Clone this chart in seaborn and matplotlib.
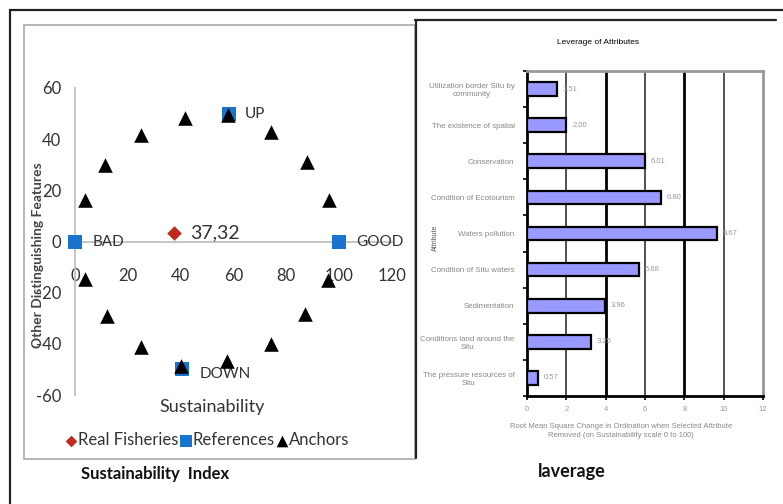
import matplotlib
matplotlib.use("Agg")
import matplotlib.pyplot as plt
import seaborn as sns
import pandas as pd
from matplotlib.lines import Line2D
from matplotlib.patches import Rectangle

# Puntos del ordenamiento (Rapfish)
anchor_x = [3.8, 11.3, 24.8, 41.5, 58.0, 74.2, 87.7, 96.2,
            3.8, 12.0, 24.8, 40.3, 57.5, 74.2, 87.2, 95.6]
anchor_y = [16.4, 30.0, 41.8, 48.4, 49.6, 42.7, 31.1, 16.4,
            -14.6, -29.2, -41.3, -48.7, -46.8, -40.0, -28.5, -15.2]
ref_names = ['BAD', 'GOOD', 'UP', 'DOWN']
ref_x = [0, 100, 58.3, 40.5]
ref_y = [0, 0, 50, -50]
real_x = [37.32]
real_y = [3.5]
real_label = '37,32'

# Leverage de atributos
atributos = ['Utilization border Situ by\ncommunity', 'The existence of spatial', 'Conservation',
             'Condition of Ecotourism', 'Waters pollution', 'Condition of Situ waters',
             'Sedimentation', 'Conditions land around the\nSitu', 'The pressure resources of\nSitu']
leverage = [1.51, 2.00, 6.01, 6.80, 9.67, 5.68, 3.96, 3.25, 0.57]

sns.set_theme(style='white')
plt.rcParams['font.family'] = ['Lato', 'DejaVu Sans']
plt.rcParams['axes.unicode_minus'] = False

W, H = 783, 504
fig = plt.figure(figsize=(7.83, 5.04), dpi=100)

def fx(px):
    return px / W

def fy(py):
    return 1 - py / H

# marcos
fig.add_artist(Line2D([fx(10), 1], [fy(10), fy(10)], color='#222222', lw=1.6))
fig.add_artist(Line2D([fx(10), fx(10)], [fy(10), 0], color='#222222', lw=1.6))
fig.add_artist(Rectangle((fx(24), fy(459)), fx(415) - fx(24), fy(25) - fy(459),
                         fill=False, edgecolor='#aaaaaa', lw=1.2, transform=fig.transFigure))
fig.add_artist(Line2D([fx(415), fx(776)], [fy(20), fy(20)], color='#222222', lw=1.6))
fig.add_artist(Line2D([fx(416), fx(416)], [fy(20), fy(458)], color='#222222', lw=1.6))

# ---- grafico de sostenibilidad ----
ax = fig.add_axes([fx(75), fy(395), fx(392) - fx(75), fy(88) - fy(395)])
sns.scatterplot(x=real_x, y=real_y, marker='D', color='#c0291c', s=55, linewidth=0,
                ax=ax, label='Real Fisheries', clip_on=False, zorder=3)
sns.scatterplot(x=ref_x, y=ref_y, marker='s', color='#1874cd', s=110, linewidth=0,
                ax=ax, label='References', clip_on=False, zorder=3)
sns.scatterplot(x=anchor_x, y=anchor_y, marker='^', color='black', s=110, linewidth=0,
                ax=ax, label='Anchors', clip_on=False, zorder=4)

ax.set_xlim(0, 120)
ax.set_ylim(-60, 60)
ax.set_xticks(range(0, 121, 20))
ax.set_yticks(range(-60, 61, 20))
ax.spines['top'].set_visible(False)
ax.spines['right'].set_visible(False)
ax.spines['bottom'].set_position(('data', 0))
for s in ['left', 'bottom']:
    ax.spines[s].set_color('#bbbbbb')
    ax.spines[s].set_linewidth(1.2)
ax.tick_params(axis='x', direction='out', length=4, color='#bbbbbb', pad=15,
               labelsize=12, labelcolor='#333333')
ax.tick_params(axis='y', direction='out', length=4, color='#bbbbbb', pad=6,
               labelsize=12, labelcolor='#333333')
ax.set_facecolor('none')

offsets = {'BAD': (13, 0), 'GOOD': (12, 0), 'UP': (11, 0), 'DOWN': (13, -3)}
for n, x, y in zip(ref_names, ref_x, ref_y):
    ax.annotate(n, (x, y), xytext=offsets[n], textcoords='offset points',
                ha='left', va='center', fontsize=11, color='#333333')
ax.annotate(real_label, (real_x[0], real_y[0]), xytext=(12, 0), textcoords='offset points',
            ha='left', va='center', fontsize=14, color='#333333')

ax.legend(loc='center', bbox_to_anchor=(fx(208), fy(440)), bbox_transform=fig.transFigure,
          ncol=3, frameon=False, fontsize=12, handlelength=0.5, handletextpad=0.15,
          columnspacing=0.2, markerscale=0.8, labelcolor='#333333')

fig.text(fx(212), fy(407), 'Sustainability', ha='center', va='center', fontsize=13,
         color='#333333')
fig.text(fx(38), fy(255), 'Other Distinguishing Features', rotation=90, ha='center',
         va='center', fontsize=10, fontweight='bold', color='#444444')
fig.text(fx(155), fy(474), 'Sustainability  Index', ha='center', va='center',
         fontsize=12, fontweight='bold', color='#111111')

# ---- grafico de leverage ----
ax2 = fig.add_axes([fx(527), fy(396), fx(763) - fx(527), fy(71) - fy(396)])
df = pd.DataFrame({'Attribute': atributos, 'Leverage': leverage})
sns.barplot(data=df, x='Leverage', y='Attribute', orient='h', color='#9999ff',
            edgecolor='black', linewidth=1.6, width=0.38, saturation=1, ax=ax2, zorder=3)
ax2.set_xlim(0, 12)
ax2.set_xticks(range(0, 13, 2))
for t in range(2, 12, 2):
    thick = t in (4, 8)
    ax2.axvline(t, color='black' if thick else '#333333', lw=2.0 if thick else 1.2, zorder=1)
for i, v in enumerate(leverage):
    ax2.text(v + 0.3, i, f'{v:.2f}', va='center', ha='left', fontsize=5.5,
             color='#999999', family='Liberation Sans')
ax2.set_xlabel('')
ax2.set_ylabel('')
ax2.set_yticks([i + 0.5 for i in range(-1, len(atributos))], minor=True)
ax2.tick_params(axis='y', which='minor', length=3, width=1.2, color='black', left=True)
ax2.tick_params(axis='y', which='major', length=0, pad=9, labelsize=5.7, labelcolor='#888888')
ax2.tick_params(axis='x', length=3, width=1.2, color='black', bottom=True, pad=4,
                labelsize=5.5, labelcolor='#999999')
for lab in ax2.get_yticklabels():
    lab.set_multialignment('center')
    lab.set_family('Liberation Sans')
for lab in ax2.get_xticklabels():
    lab.set_family('Liberation Sans')
ax2.spines['left'].set_color('black')
ax2.spines['bottom'].set_color('black')
ax2.spines['left'].set_linewidth(2)
ax2.spines['bottom'].set_linewidth(2)
ax2.spines['top'].set_color('#999999')
ax2.spines['right'].set_color('#999999')
ax2.spines['top'].set_linewidth(2)
ax2.spines['right'].set_linewidth(2)

fig.text(fx(598), fy(43), 'Leverage of Attributes', ha='center', va='center', fontsize=6,
         family='Liberation Sans', color='black')
fig.text(fx(621), fy(431), 'Root Mean Square Change in Ordination when Selected Attribute\n'
         'Removed (on Sustainability scale 0 to 100)', ha='center', va='center', fontsize=5.5,
         family='Liberation Sans', color='#888888', linespacing=1.5)
fig.text(fx(435), fy(238), 'Attribute', rotation=90, ha='center', va='center', fontsize=5,
         family='Liberation Sans', color='#555555')
fig.text(fx(572), fy(472), 'laverage', ha='center', va='center', fontsize=13,
         fontweight='bold', color='#111111')

fig.savefig('out.png', dpi=100)
